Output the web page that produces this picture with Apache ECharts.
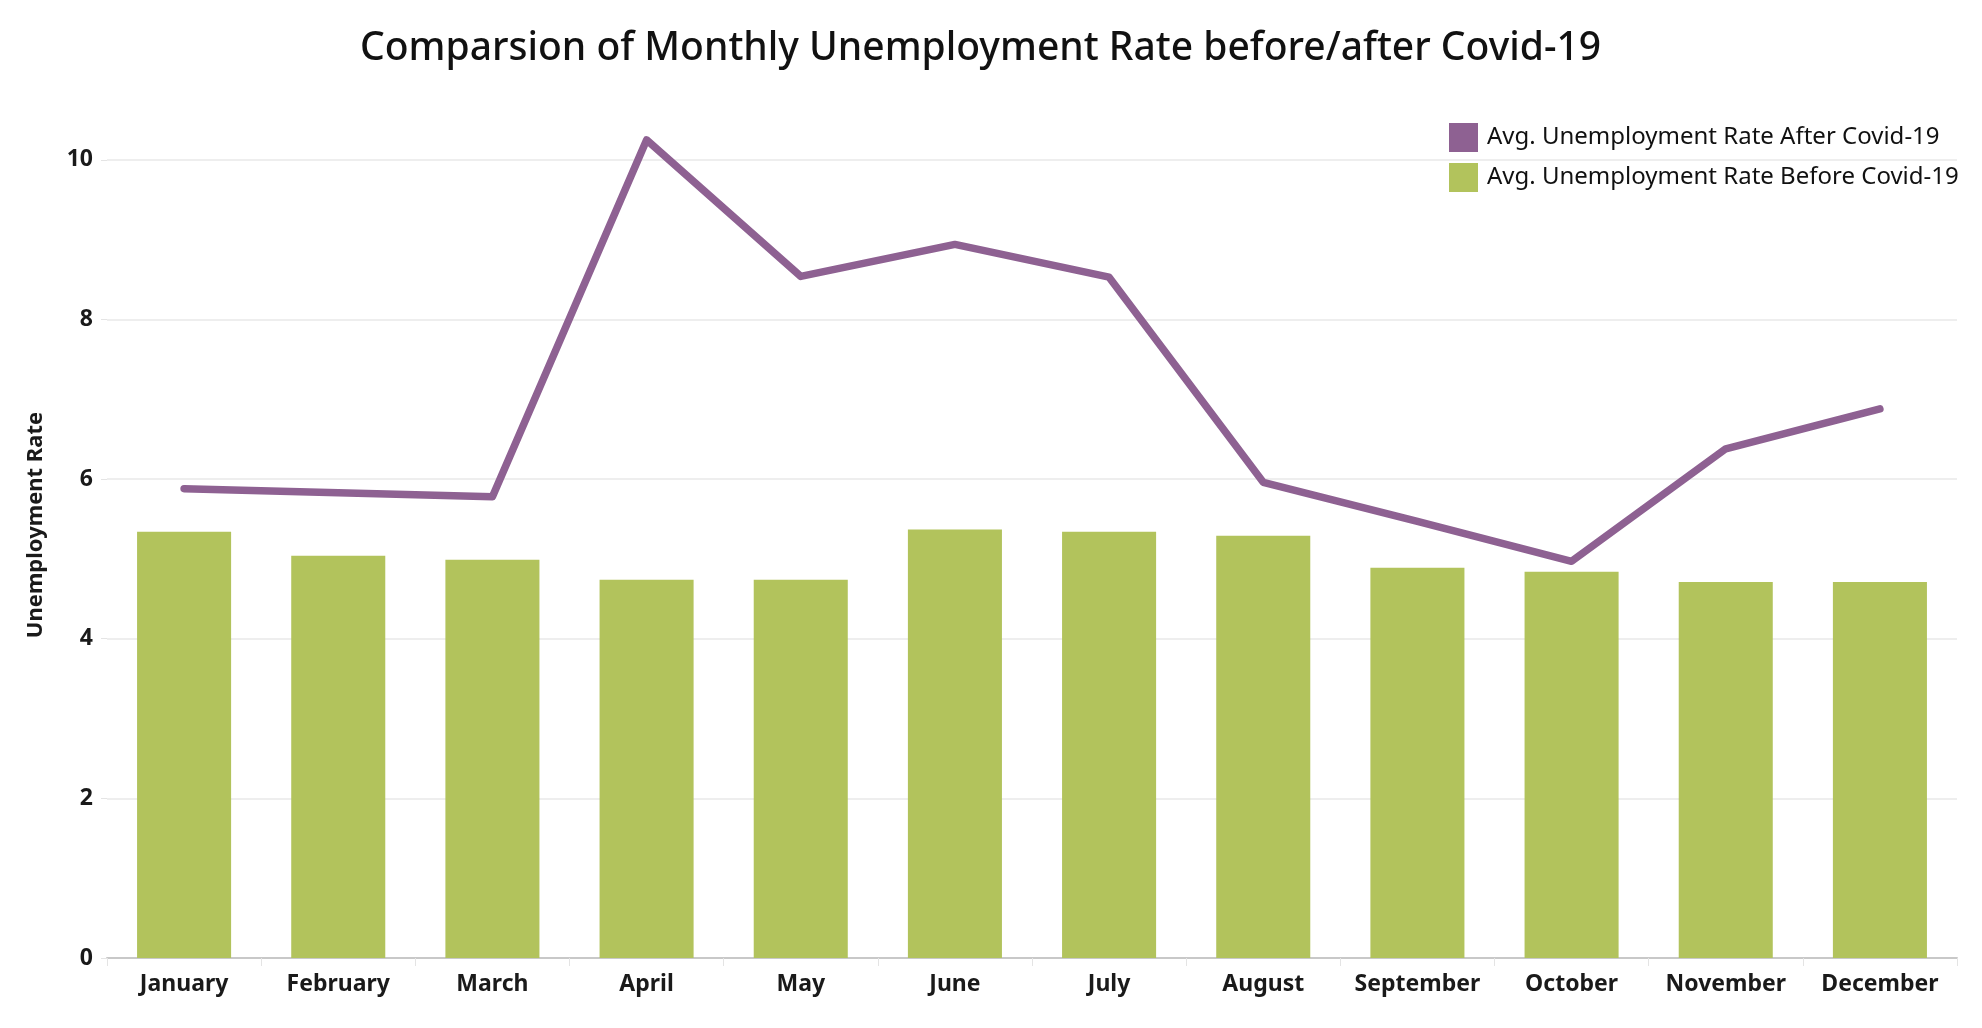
<!DOCTYPE html>
<html>
<head>
<meta charset="utf-8">
<script src="https://cdn.jsdelivr.net/npm/echarts@6/dist/echarts.min.js"></script>
<style>
html,body{margin:0;padding:0;background:#fff;}
#chart{width:1982px;height:1028px;}
</style>
</head>
<body>
<div id="chart"></div>
<script>
// months along the x axis
var months = ['January','February','March','April','May','June','July','August','September','October','November','December'];
// avg unemployment rate, before covid (bars)
var beforeCovid = [5.34, 5.04, 4.99, 4.74, 4.74, 5.37, 5.34, 5.29, 4.89, 4.84, 4.71, 4.71];
// avg unemployment rate, after covid (line)
var afterCovid = [5.88, 5.83, 5.78, 10.25, 8.54, 8.94, 8.53, 5.96, 5.47, 4.97, 6.38, 6.88];
var yTicks = [0, 2, 4, 6, 8, 10];

var purple = '#8e6192';
var green = '#b2c35c';

var chart = echarts.init(document.getElementById('chart'));

var option = {
    backgroundColor:'#fff',
    animation:false,
    textStyle:{fontFamily:'Noto Sans'},
    title:{
        text:'Comparsion of Monthly Unemployment Rate before/after Covid-19',
        left:355,
        top:24,
        textStyle:{fontSize:39,fontWeight:500,color:'#111',fontFamily:'Noto Sans'}
    },
    legend:{
        orient:'vertical',
        left:1444,
        top:118,
        itemWidth:29,
        itemHeight:29,
        itemGap:11,
        icon:'rect',
        textStyle:{fontSize:24,color:'#111',padding:[0,0,0,4]},
        data:['Avg. Unemployment Rate After Covid-19','Avg. Unemployment Rate Before Covid-19']
    },
    grid:{left:107,right:25,top:92,bottom:70},
    xAxis:{
        type:'category',
        data:months,
        axisLine:{lineStyle:{color:'#c8c8c8',width:2}},
        axisTick:{show:true,length:8,lineStyle:{color:'#e4e4e4'}},
        axisLabel:{interval:0,fontSize:23,fontWeight:'bold',color:'#1a1a1a',margin:15}
    },
    yAxis:{
        type:'value',
        min:0,
        max:10.85,
        interval:2,
        name:'Unemployment Rate',
        nameLocation:'middle',
        nameGap:60,
        nameMoveOverlap:false,
        nameTextStyle:{fontSize:22,fontWeight:'bold',color:'#1a1a1a'},
        axisLine:{show:false},
        axisTick:{show:true,length:6,lineStyle:{color:'#e4e4e4'}},
        axisLabel:{
            fontSize:23,fontWeight:'bold',color:'#1a1a1a',margin:14,align:'right',
            showMaxLabel:false,
            formatter:function(v){ return yTicks.indexOf(v)>=0 ? String(v) : ''; }
        },
        splitLine:{show:true,showMaxLine:false,showMinLine:false,lineStyle:{color:'#eeeeee',width:2}}
    },
    series:[
        {
            name:'Avg. Unemployment Rate Before Covid-19',
            type:'bar',
            data:beforeCovid,
            barWidth:'61%',
            itemStyle:{color:green},
            z:2
        },
        {
            name:'Avg. Unemployment Rate After Covid-19',
            type:'line',
            data:afterCovid,
            showSymbol:false,
            symbol:'none',
            lineStyle:{color:purple,width:7.5,cap:'round',join:'round'},
            itemStyle:{color:purple},
            z:3
        }
    ]
};

chart.setOption(option);
</script>
</body>
</html>
